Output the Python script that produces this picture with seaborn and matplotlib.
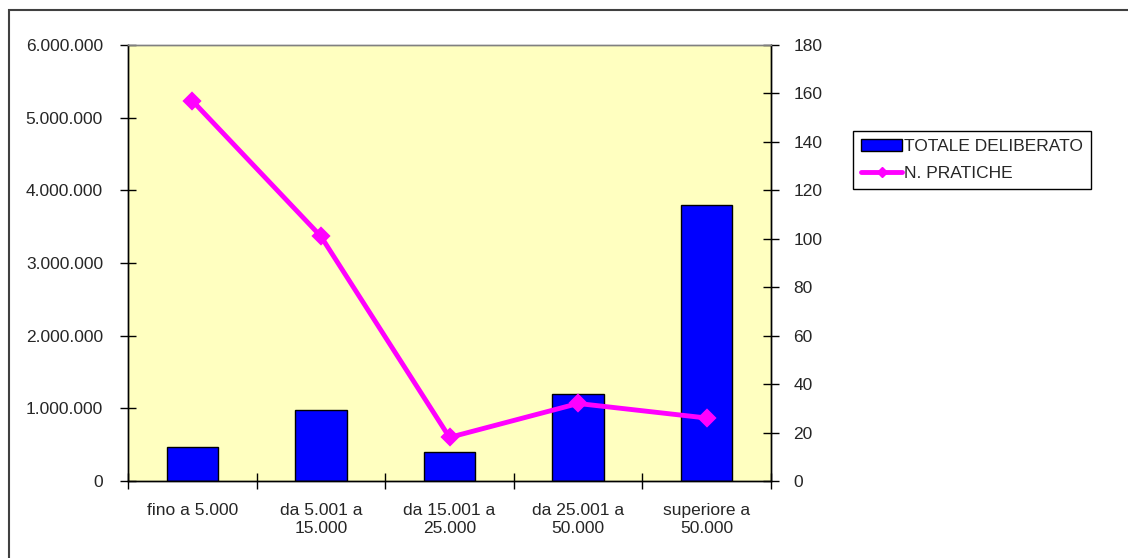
import matplotlib
matplotlib.use("Agg")
import pandas as pd
from matplotlib import pyplot as plt
from matplotlib.patches import Rectangle, Patch
from matplotlib.lines import Line2D
from matplotlib.ticker import FuncFormatter, FixedLocator
import seaborn as sns

categories = ["fino a 5.000", "da 5.001 a\n15.000", "da 15.001 a\n25.000",
              "da 25.001 a\n50.000", "superiore a\n50.000"]
totale_deliberato = [470000, 975000, 400000, 1195000, 3800000]
n_pratiche = [157, 101, 18, 32, 26]

def dotted(x, pos):
    return "{:,.0f}".format(x).replace(",", ".")

if __name__ == '__main__':
    sns.set_style("white")
    plt.rcParams['font.family'] = ['Liberation Sans', 'DejaVu Sans']
    fs = 12.5

    df = pd.DataFrame({"fascia": categories,
                       "totale": totale_deliberato,
                       "pratiche": n_pratiche})

    fig = plt.figure(figsize=(11.28, 5.58), dpi=100)
    ax = fig.add_axes([128/1128, 1 - 481/558, (771-128)/1128, (481-45)/558])
    ax.set_facecolor("#FFFFC0")

    sns.barplot(data=df, x="fascia", y="totale", ax=ax, color="#0000FF",
                saturation=1, width=0.4, edgecolor="black", linewidth=1)

    ax2 = ax.twinx()
    sns.pointplot(data=df, x="fascia", y="pratiche", ax=ax2, color="#FF00FF",
                  markers="D", markersize=7, linewidth=3.5, errorbar=None)

    ax.set_xlim(-0.5, 4.5)
    ax.set_ylim(0, 6000000)
    ax2.set_ylim(0, 180)
    ax.set_yticks(range(0, 6000001, 1000000))
    ax2.set_yticks(range(0, 181, 20))
    ax.yaxis.set_major_formatter(FuncFormatter(dotted))

    ax.set_xlabel("")
    ax.set_ylabel("")
    ax2.set_xlabel("")
    ax2.set_ylabel("")

    # category labels centred, ticks at the boundaries
    ax.xaxis.set_minor_locator(FixedLocator([-0.5, 0.5, 1.5, 2.5, 3.5, 4.5]))
    ax.tick_params(axis="x", which="major", length=0, pad=16, labelsize=fs)
    ax.tick_params(axis="x", which="minor", direction="inout", length=12,
                   width=1, color="black", bottom=True)
    ax.tick_params(axis="y", direction="inout", length=12, width=1,
                   color="black", left=True, pad=12, labelsize=fs)
    ax2.tick_params(axis="y", direction="inout", length=12, width=1,
                    color="black", right=True, pad=10, labelsize=fs)

    for a in (ax, ax2):
        for side in ("left", "right", "bottom"):
            a.spines[side].set_color("black")
            a.spines[side].set_linewidth(1)
        a.spines["top"].set_color("#808080")
        a.spines["top"].set_linewidth(1)
    ax.set_zorder(0)
    ax2.set_zorder(1)

    handles = [Patch(facecolor="#0000FF", edgecolor="black", linewidth=1),
               Line2D([0], [0], color="#FF00FF", lw=3.5, marker="D", markersize=5)]
    leg = fig.legend(handles, ["TOTALE DELIBERATO", "N. PRATICHE"],
                     loc="upper left", bbox_to_anchor=(853/1128, 1 - 131/558),
                     frameon=True, fancybox=False, framealpha=1,
                     edgecolor="black", fontsize=fs, handlelength=2.4,
                     handletextpad=0.1, borderpad=0.45, labelspacing=0.7,
                     borderaxespad=0)
    leg.get_frame().set_linewidth(1)

    fig.patches.append(Rectangle((9/1128, -0.05), 1.1, 1 - 10/558 + 0.05,
                                 transform=fig.transFigure, fill=False,
                                 edgecolor="#404040", linewidth=1.5))

    fig.savefig("out.png", dpi=100)
